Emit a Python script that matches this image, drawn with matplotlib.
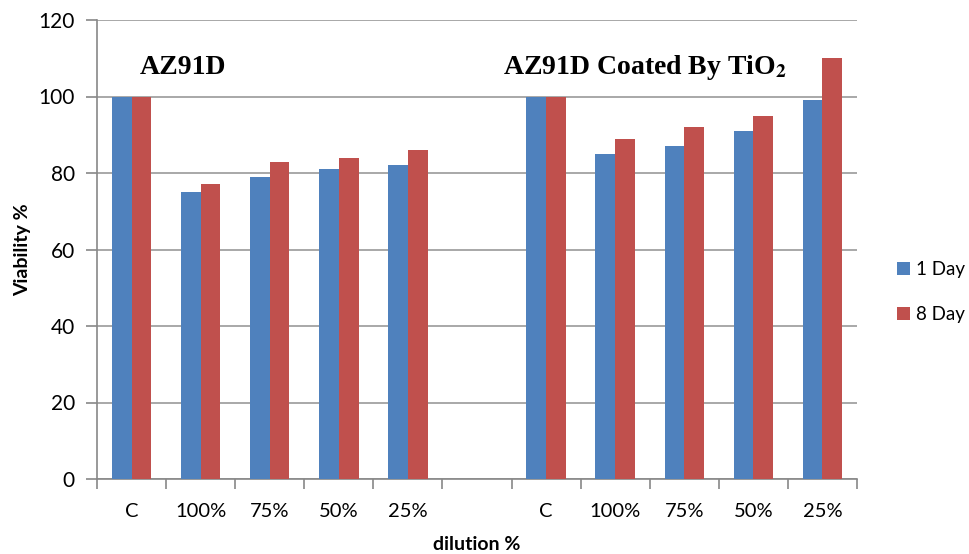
import numpy as np
import matplotlib
matplotlib.use('Agg')
import matplotlib.pyplot as plt

categories = ['C', '100%', '75%', '50%', '25%', '', 'C', '100%', '75%', '50%', '25%']
day1 = [100, 75, 79, 81, 82, np.nan, 100, 85, 87, 91, 99]
day8 = [100, 77, 83, 84, 86, np.nan, 100, 89, 92, 95, 110]

plt.rcParams['font.family'] = ['Lato', 'DejaVu Sans']
plt.rcParams['mathtext.fontset'] = 'stix'

fig = plt.figure(figsize=(9.69, 5.54), dpi=100)
ax = fig.add_axes([97 / 969, 75 / 554, 760 / 969, 459 / 554])

x = np.arange(len(categories))
w = 0.285
ax.bar(x - w / 2, day1, w, color='#4F81BD', label='1 Day', zorder=3)
ax.bar(x + w / 2, day8, w, color='#C0504D', label='8 Day', zorder=3)

ax.set_xlim(-0.5, len(categories) - 0.5)
ax.set_ylim(0, 120)
ax.set_yticks(range(0, 121, 20))
ax.yaxis.grid(True, color='#9A9A9A', linewidth=1.2, zorder=0)

ax.set_xticks(x)
ax.set_xticklabels(categories)
ax.set_xticks(np.arange(-0.5, len(categories)), minor=True)
ax.tick_params(axis='x', which='major', length=0, pad=17, labelsize=14.5)
ax.tick_params(axis='x', which='minor', length=7, color='#888888', width=1.2)
ax.tick_params(axis='y', length=8, color='#888888', width=1.2, labelsize=15, pad=8)

for side in ['top', 'right']:
    ax.spines[side].set_visible(False)
for side in ['left', 'bottom']:
    ax.spines[side].set_color('#888888')
    ax.spines[side].set_linewidth(1.2)

ax.set_ylabel('Viability %', fontsize=14, fontweight='bold', labelpad=5)
ax.set_xlabel('dilution %', fontsize=14, fontweight='bold', labelpad=12)

ax.text(0.12, 107.7, 'AZ91D', family='Liberation Serif', fontweight='bold',
        fontsize=20, ha='left', va='center')
ax.text(5.37, 107.7, 'AZ91D Coated By TiO$_\\mathbf{2}$', family='Liberation Serif',
        fontweight='bold', fontsize=20, ha='left', va='center')

fig.legend(loc='center left', bbox_to_anchor=(889 / 969, 1 - 292 / 554),
           frameon=False, fontsize=13.5, handlelength=0.7, handleheight=0.7,
           handletextpad=0.35, labelspacing=1.5, borderaxespad=0)

plt.savefig('out.png', dpi=100)
